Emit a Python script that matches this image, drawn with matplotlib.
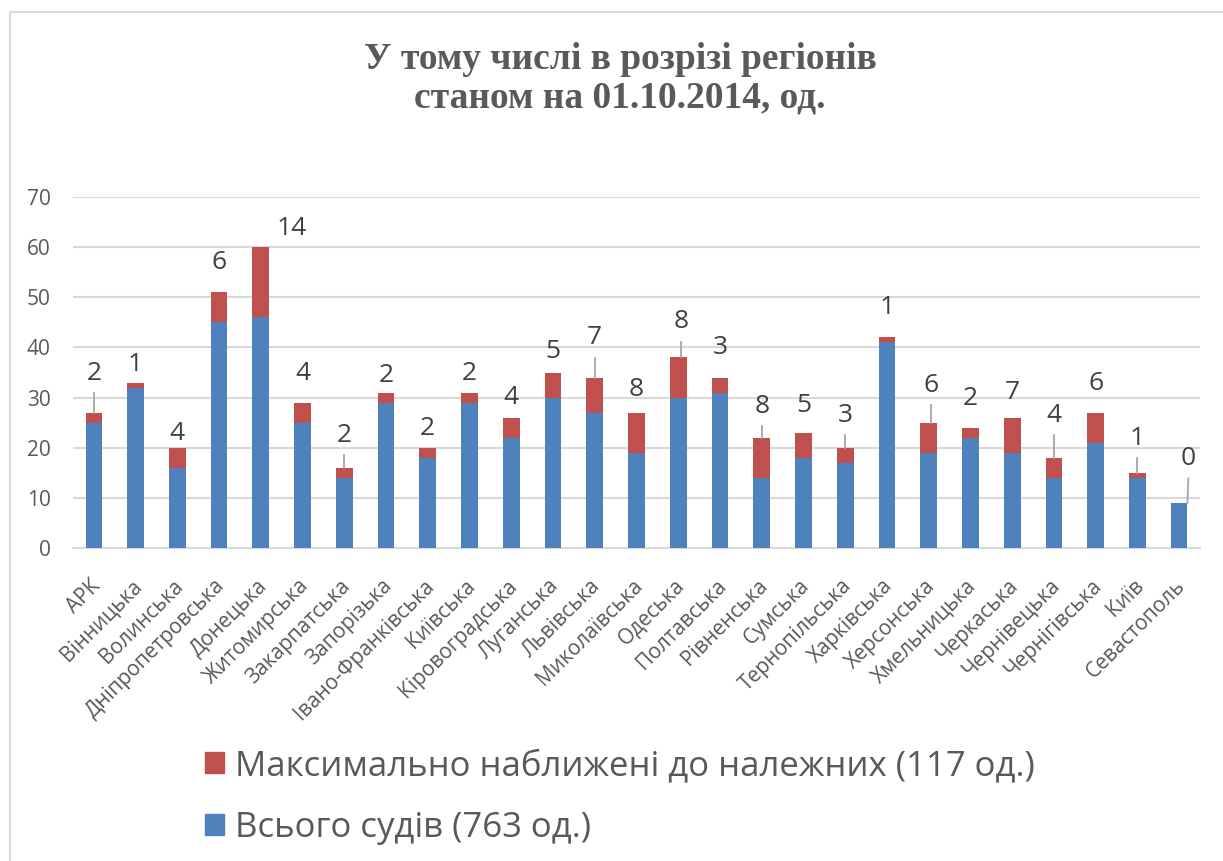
import matplotlib
matplotlib.use("Agg")
import matplotlib.pyplot as plt
from matplotlib.patches import Rectangle, Patch
from matplotlib.transforms import ScaledTranslation

plt.rcParams['font.family'] = ['Open Sans', 'DejaVu Sans']

regions = ["АРК", "Вінницька", "Волинська", "Дніпропетровська", "Донецька",
           "Житомирська", "Закарпатська", "Запорізька", "Івано-Франківська",
           "Київська", "Кіровоградська", "Луганська", "Львівська",
           "Миколаївська", "Одеська", "Полтавська", "Рівненська", "Сумська",
           "Тернопільська", "Харківська", "Херсонська", "Хмельницька",
           "Черкаська", "Чернівецька", "Чернігівська", "Київ", "Севастополь"]
total_courts = [25, 32, 16, 45, 46, 25, 14, 29, 18, 29, 22, 30, 27, 19, 30,
                31, 14, 18, 17, 41, 19, 22, 19, 14, 21, 14, 9]
close_to_norm = [2, 1, 4, 6, 14, 4, 2, 2, 2, 2, 4, 5, 7, 8, 8,
                 3, 8, 5, 3, 1, 6, 2, 7, 4, 6, 1, 0]

title = "У тому числі в розрізі регіонів\nстаном на 01.10.2014, од."
legend_red = "Максимально наближені до належних (117 од.)"
legend_blue = "Всього судів (763 од.)"

# label placement (layout only)
label_y = [34.9, 36.5, 22.9, 57.0, 63.8, 34.9, 22.5, 34.5, 23.9, 34.9, 30.1,
           39.1, 41.9, 31.7, 45.1, 39.9, 28.3, 28.5, 26.5, 47.9, 32.5, 29.9,
           31.1, 26.5, 32.9, 21.9, 17.9]
label_dx = [0, 0, 0, 0, 0.74, 0, 0, 0, 0, 0, 0, 0, 0, 0, 0.06, 0, 0, 0, 0,
            0, 0.06, 0, 0, 0, 0, 0, 0.22]
leader = [1, 0, 0, 0, 0, 0, 1, 0, 0, 0, 0, 0, 1, 0, 1, 0, 1, 0, 1, 0, 1, 0,
          0, 1, 0, 1, 1]

BLUE = "#4F81BD"
RED = "#C0504D"
GRID = "#D9D9D9"
TXT = "#595959"

fig = plt.figure(figsize=(12.23, 8.61), dpi=100)
# chart frame
fig.patches.append(Rectangle((9.5 / 1223, -0.1), 1.2, (861 - 12.5) / 861 + 0.1,
                             transform=fig.transFigure, fill=False,
                             edgecolor=GRID, linewidth=1.5))

ax = fig.add_axes([73 / 1223, (861 - 548) / 861, (1200 - 73) / 1223, 351 / 861])
x = list(range(len(regions)))
ax.bar(x, total_courts, width=0.4, color=BLUE, zorder=3)
tops = [t + c for t, c in zip(total_courts, close_to_norm)]
ax.bar(x, close_to_norm, bottom=total_courts, width=0.4, color=RED, zorder=3)

for i in x:
    lx = i + label_dx[i]
    ax.text(lx, label_y[i], str(close_to_norm[i]), ha='center', va='center',
            fontsize=19, color="#404040", zorder=5)
    if leader[i]:
        ex = i + min(label_dx[i], 0.2)
        ax.plot([lx, ex], [label_y[i] - 4.0, tops[i]], color="#A6A6A6",
                linewidth=1.3, zorder=4)

ax.set_xlim(-0.5, len(regions) - 0.5)
ax.set_ylim(0, 70)
ax.set_yticks(range(0, 71, 10))
ax.yaxis.grid(True, color=GRID, linewidth=1.5, zorder=0)
ax.set_axisbelow(True)
for s in ['top', 'right', 'left']:
    ax.spines[s].set_visible(False)
ax.spines['bottom'].set_color(GRID)
ax.spines['bottom'].set_linewidth(1.5)
ax.tick_params(axis='y', length=0, pad=16, labelsize=15, labelcolor=TXT)
ax.tick_params(axis='x', length=0, pad=25, labelsize=15, labelcolor=TXT)
ax.set_xticks(x)
ax.set_xticklabels(regions, rotation=45, ha='right', va='center',
                   rotation_mode='anchor')
shift = ScaledTranslation(3 / 100, 0, fig.dpi_scale_trans)
for lab in ax.get_xticklabels():
    lab.set_transform(lab.get_transform() + shift)

fig.text(620 / 1223, 1 - 78.5 / 861, title, ha='center', va='center',
         fontsize=27, fontweight='bold', color=TXT,
         family=['Liberation Serif', 'DejaVu Serif'], linespacing=1.12)

handles = [Patch(color=RED), Patch(color=BLUE)]
fig.legend(handles, [legend_red, legend_blue], loc='center left',
           bbox_to_anchor=(205 / 1223, 1 - 797 / 861), frameon=False,
           fontsize=25, labelcolor=TXT, handlelength=0.55, handleheight=0.55,
           handletextpad=0.3, labelspacing=0.8, borderpad=0,
           borderaxespad=0)

fig.savefig("out.png", dpi=100)
